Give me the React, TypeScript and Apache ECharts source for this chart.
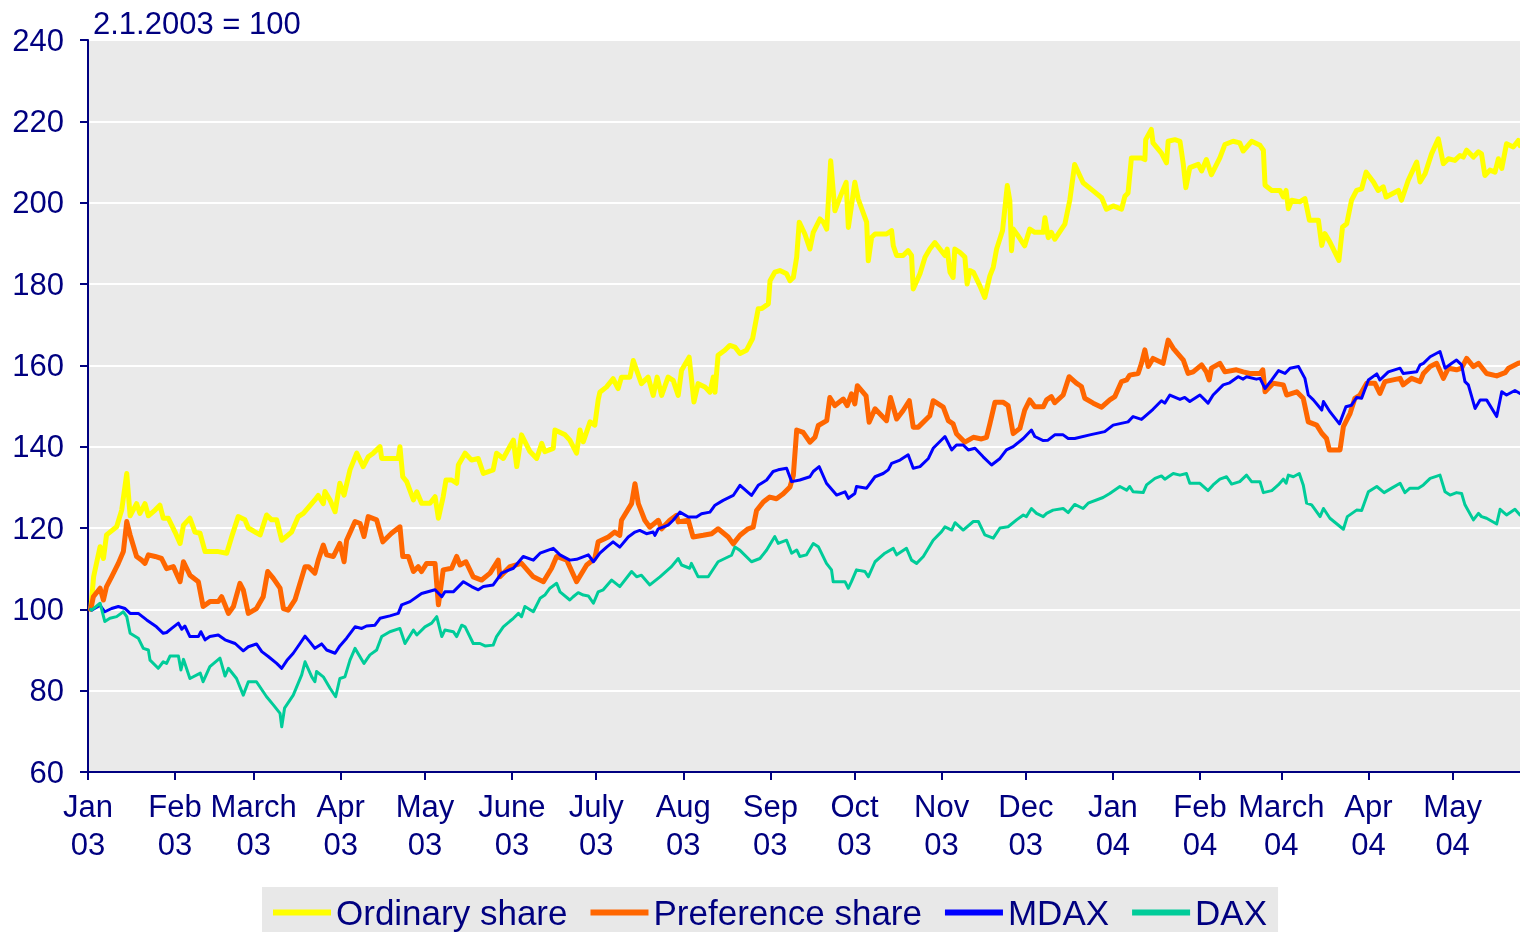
import React, { useEffect, useRef } from "react";
import * as echarts from "echarts";

// x values are days since 1 Jan 2003
const monthNames = ["Jan", "Feb", "March", "Apr", "May", "June", "July", "Aug", "Sep", "Oct", "Nov", "Dec"];
const seriesNames = ["Ordinary share", "Preference share", "MDAX", "DAX"];
const yTicks = { min: 60, max: 240, step: 20 };
const lastDay = 510;

const ordinaryShare: [number, number][] = [
  [1,100],[2,108],[4.3,115.4],[5.5,112.5],[6.6,118.3],[10.2,120.3],[12,124.4],[13.8,133.4],[15,123],[17.3,126],[18.5,123.6],[20.3,126],[21.5,123],[23.9,124.4],[25.6,125.6],[26.8,122.4],[28.6,122.4],[31,119],[32.8,116.2],[34,120.7],[36.3,122.4],[38.1,119],[39.9,118.7],[41.7,114.2],[46.4,114.2],[49.4,113.8],[51.2,117.9],[53.5,122.8],[55.9,122],[57.1,120],[61.3,118.3],[63.6,123.2],[65.4,122],[67.2,122],[69,117],[72.5,119],[74.9,122.8],[76.7,123.6],[80.8,126.9],[82,128],[83.8,126],[84.4,129],[86.2,126.9],[88,124],[89.7,131],[91.2,128.1],[93.3,134.3],[95.7,138.4],[98,135.1],[99.8,137.5],[101.6,138.4],[104,140],[104.6,137.1],[110.5,137.1],[111.1,140],[112.1,132.6],[113.5,131.4],[115.9,126.9],[117.1,128.9],[118.8,126.1],[121.8,126.1],[123.6,127.7],[124.8,122.4],[126.5,127.7],[127.5,131.8],[129.5,131.8],[131.3,131],[131.9,135.5],[134.3,138.4],[136.6,136.7],[139,137.1],[140.8,133.4],[144.3,134.3],[145.5,138.4],[147.9,137.1],[151.5,141.6],[152.7,135.1],[154.4,142.9],[157.4,138.8],[159.8,137.1],[161.6,140.8],[162.7,138.8],[165.7,139.6],[166.3,144.1],[169.9,142.9],[171.6,141.6],[174,138.4],[175.2,144.1],[176.4,141.2],[178.8,146.1],[180.5,145.3],[181.7,151.5],[182.3,153.4],[184.7,154.7],[187,156.7],[188.8,154.3],[190,157.1],[193,157.1],[194.2,161.2],[195.4,158.8],[197.1,155.5],[199.5,157.1],[201.3,152.6],[202.7,157.1],[204.3,152.6],[206.6,157.1],[208.4,156.3],[210.2,152.6],[211.4,158.8],[214.1,162],[215.8,151],[217.3,155.5],[219.7,154.7],[221.5,153.4],[222.7,157.1],[223.3,153.4],[224.4,162.5],[226.8,163.7],[228.6,164.9],[230.4,164.5],[232.2,162.9],[234.5,163.7],[236.7,166.6],[238.7,173.9],[240,174],[242.3,175.1],[242.9,180.8],[244.6,182.9],[246.4,183.3],[248.8,182.5],[250,180.8],[251.2,181.6],[252.4,186.6],[253.3,195.2],[255.3,192.3],[257.1,188.6],[258.3,192.7],[260.7,196],[261.9,195.2],[263.1,193.5],[264.5,210.3],[266,198],[267.8,201.3],[270,205],[270.8,193.9],[273.1,205],[274.3,200.9],[277.3,195.2],[277.9,185.7],[279.1,191.5],[280.3,192.3],[284.4,192.3],[286.2,193.1],[286.8,189.4],[288,187],[290.3,187],[292.1,188.2],[293.3,187],[293.9,178.8],[296.3,182.5],[298.1,186.6],[299.8,188.6],[301.6,190.2],[303.4,188.6],[305.2,187],[306,188.6],[307,182.9],[308.1,181.6],[308.7,188.6],[310.5,187.8],[312.3,186.6],[313.1,180],[314.1,183.3],[315.3,182.9],[317.6,179.6],[319.4,176.7],[321.2,182],[322.4,184.1],[323.6,188.6],[325.7,193.1],[327.4,204.2],[328.3,200.5],[328.9,188.2],[329.5,193.5],[331.3,191.8],[333.6,189.4],[335.4,193.5],[337.2,192.7],[340.2,192.7],[340.8,196.3],[342,191.4],[343.1,192.7],[344.3,191],[347.9,194.7],[349.7,200.8],[351.4,209.4],[354.4,204.9],[358,202.9],[361,201.2],[362.7,198.4],[365.1,199.2],[368.1,198.4],[369.3,201.6],[370.4,202.4],[371.6,211],[375.2,211],[376.4,210.6],[376.7,215.5],[378.7,218],[379.3,214.7],[382.3,212.2],[384.1,209.8],[384.7,215.1],[387.1,215.5],[388.9,215.1],[390.1,209.4],[391,203.7],[392.4,208.6],[395.4,209.4],[396.6,207.8],[398.3,210.6],[400.1,206.9],[403.1,211],[404.9,214.3],[407.8,215.1],[410.2,214.7],[411.4,212.7],[414.4,215.1],[417.4,214.1],[418.6,212.9],[419.2,204.3],[421.6,203],[424.5,203],[425.7,201.4],[426.7,203],[427.5,198.5],[428.7,200.6],[431.6,200.2],[433.4,201],[435,195.7],[438.2,195.7],[439.4,189.5],[440.5,192.4],[442.3,190.3],[445.5,185.8],[446.8,194],[448.3,194.8],[450,200.6],[451.8,203],[453.6,203.4],[455.2,207.5],[457.8,205.1],[459.5,203],[461.3,203.9],[462.3,201.4],[466.7,203],[467.8,200.6],[470.2,205.5],[473.2,210],[474.4,205.1],[476.2,207.1],[478.5,212],[480.9,215.7],[482.7,209.6],[484.5,210.8],[486.8,210.4],[488.6,211.6],[489.8,211.2],[491,212.9],[493.4,211.2],[495.2,212.5],[496.3,212],[497.5,206.7],[499.3,208],[501.1,207.5],[502.3,210.8],[503.5,208.4],[505.2,214.5],[507.6,213.7],[509.4,215.3],[510,214]
];

const preferenceShare: [number, number][] = [
  [1,100],[1.9,103.1],[4.3,105.2],[5.5,102.3],[6.6,105.6],[8.4,108],[10.8,111.3],[12.6,114.2],[13.8,121.6],[15,118.3],[17.3,113],[19.1,112.1],[20.3,111.3],[21.5,113.4],[23.9,113],[26.2,112.5],[28,110],[30.4,110.5],[32.8,106.8],[34,111.7],[36.3,108.4],[39.3,106.8],[41,100.7],[43.4,101.9],[46.4,101.9],[47.6,103.1],[48.8,101.1],[50,99],[51.8,100.7],[54.1,106.4],[55.3,104.8],[57.1,99],[60,100.2],[62.4,103.1],[64,109.3],[66,107.6],[68.4,105.2],[69.6,100.2],[71.3,99.8],[73.7,102.3],[77.3,110.5],[78.5,110.5],[80.8,108.9],[82,112.1],[83.8,115.8],[85,113.4],[87.4,113],[89.7,116.2],[91.2,111.7],[92.1,117],[95.1,121.6],[96.9,121.1],[98.3,117.9],[99.8,122.8],[102.8,122],[105,116.6],[108.1,118.7],[111.1,120.3],[112.1,113],[114.1,113],[115.9,109.3],[117.6,110.5],[118.8,109.3],[120.6,111.3],[123.6,111.3],[124.8,101.1],[126.5,109.7],[129.5,110.1],[131.3,113],[132.5,110.9],[134.6,111.7],[137.2,108],[140.2,107.2],[143.2,108.9],[146.1,112.1],[146.7,108],[150.3,110.5],[154.4,111.3],[158.6,108],[162.2,106.8],[165.1,110.1],[166.9,113],[170.5,112.1],[174,106.8],[177.6,110.9],[180.5,112.5],[181.7,116.6],[185.3,117.8],[187.6,119],[189.4,118.2],[190,121.9],[193.6,126],[194.8,130.9],[196,126],[198.3,121.9],[200.1,120.2],[203.1,121.9],[204.3,119.8],[207.2,121.9],[209.6,123.1],[210.2,121.5],[213.8,121.9],[215.5,117.8],[219.1,118.2],[222.1,118.6],[224.4,119.8],[228,117.8],[229.8,116.1],[232.2,118.2],[235.1,119.8],[236.9,120.2],[238.1,124.3],[240.5,126.4],[242.8,127.6],[245.2,127.2],[247.6,128.4],[250,130.1],[251.2,132.9],[252.4,144.1],[254.7,143.5],[257.1,141.1],[258.9,142.3],[260.1,145.2],[263.1,146.4],[264.2,152.1],[266,150.1],[269,151.7],[270.4,150.1],[271.9,153],[273.1,150.5],[274,155],[277.1,152.5],[278.2,146],[280.3,149.3],[284.4,146.4],[285.8,152.1],[288,146.8],[290.3,148.9],[292.5,151.3],[293.9,144.8],[295.7,144.8],[299.8,147.6],[301,151.3],[304.6,149.7],[306.4,146.4],[308.1,145.6],[309.3,143.2],[312.3,141.1],[315.3,142.3],[318.2,141.9],[320,142.3],[321.2,145.6],[323,150.9],[326,150.9],[327.7,150.1],[329.5,143.2],[331.9,144.5],[333.6,149],[335.4,151.5],[337.2,149.8],[340.2,149.8],[341.4,151.5],[343.1,152.3],[344.3,150.8],[347.3,152.7],[349.4,157.2],[352,155.6],[353.8,154.8],[355,151.9],[358,150.7],[361,149.7],[363.9,151.5],[365.7,152.3],[368.1,156],[369.9,156.4],[371,157.6],[374,158],[375.2,160.5],[376.4,163.8],[377.6,159.7],[379.3,161.7],[382.9,160.5],[384.7,166.2],[386.5,164.2],[390.1,161.3],[391.8,158],[393.6,158.4],[396.6,160.1],[398.3,158.4],[399.3,156.4],[400.1,159.3],[403.1,160.5],[404.9,158.4],[409,158.9],[411.4,158.4],[413.8,158],[417.4,158],[418.4,158.9],[419.2,153.5],[422.1,155.6],[425.7,155.2],[426.9,152.7],[430.5,153.5],[432.8,151.9],[434.6,146.1],[437.6,145.3],[439.4,143.3],[441.1,142],[442.1,139.2],[445.9,139.2],[447.1,144.9],[449.5,148.2],[451.2,151.9],[453,152.7],[455.4,155.6],[458.3,155.6],[460.1,153.1],[461.9,156],[467.3,156.8],[468.4,155.2],[471.4,156.8],[474.4,156],[475.6,158],[478,159.7],[480.3,160.5],[482.7,156.8],[484.5,159.3],[487.4,158.9],[489.2,159.3],[491,161.7],[493.4,159.7],[495.2,160.5],[498.1,158],[501.7,157.4],[504.7,158.2],[505.9,159.3],[509.4,160.5],[510,160.6]
];

const mdax: [number, number][] = [
  [1,100],[1.3,99.8],[4.3,101],[6,99.4],[8.4,100.2],[10.8,100.7],[13.2,100.2],[15,99],[17.9,99],[20.9,97.4],[24.4,95.7],[26.8,94.1],[28,94.3],[29.8,95.3],[32.2,96.6],[33.4,95.1],[34.5,95.9],[36.3,93.3],[39.3,93.3],[40.2,94.5],[41.7,92.5],[43.4,93.3],[46.4,93.7],[48.8,92.5],[52.4,91.6],[55.3,89.8],[57.1,90.8],[60,91.5],[61.9,89.6],[64.2,88.4],[67.2,86.7],[69,85.5],[70.8,87.4],[73.1,89.2],[75.5,91.6],[77.3,93.4],[79,92],[80.8,90.4],[83.2,91.5],[85,90],[88,89.2],[89.7,91],[92.1,92.9],[95.1,95.7],[97.5,95.3],[99.2,95.9],[102.2,96.1],[104,97.8],[107.5,98.4],[110.5,99],[111.7,101.1],[114.7,101.9],[118.8,103.9],[123.6,104.8],[126,103.1],[127.1,104.3],[130.1,104.3],[133.7,106.8],[136.6,105.6],[139,104.8],[140.8,105.6],[144.3,106],[147.3,108.9],[151.5,110.1],[155,113],[158.6,112.1],[161,113.8],[165.7,115],[168.1,113.4],[171.6,112.1],[174,112.3],[178.2,113.4],[180,111.7],[182.3,113.8],[184.7,115.3],[187,116.6],[189.4,115.3],[192.4,117.8],[194.8,119],[196.5,119.4],[198.9,118.6],[201.3,119],[201.9,118.2],[203.1,119.8],[206.6,120.7],[208.4,121.9],[210.8,123.9],[213.8,122.7],[216.7,122.7],[218.5,123.5],[221.5,123.9],[223.3,125.6],[226.2,126.8],[229.8,128],[232.2,130.5],[236.3,128],[238.7,130.5],[241.7,131.8],[244,133.9],[245.8,134.3],[248.8,134.7],[250.6,131.4],[253.5,131.8],[257.1,132.6],[258.3,133.9],[260.4,135.1],[263,131],[266.6,128.1],[269.6,128.9],[270.8,127.3],[273.1,128.5],[273.7,130.2],[277.3,129.8],[280.3,132.6],[283.2,133.4],[285,134.3],[286.2,135.9],[289.2,136.7],[292.1,138],[293.9,134.7],[296.3,135.1],[299.3,137.1],[301,139.6],[305.2,142.5],[307.6,139.2],[309.3,140.4],[311.7,140.4],[313.5,139.2],[315.9,139.6],[318.8,137.5],[321.8,135.5],[324.8,137.1],[327.1,139.2],[329.5,140],[333.1,142],[336,144.1],[337.2,142.5],[340.2,141.5],[341.9,141.6],[344.3,142.9],[347.3,142.9],[349.1,142],[351.4,142],[356.8,142.9],[362.1,143.7],[365.1,145.3],[370.4,146.1],[372.2,147.4],[375.2,146.7],[379.3,149.2],[382.3,151.3],[383.5,150.7],[385.3,152.7],[388.9,151.6],[390.6,152.1],[392.4,151.1],[396,152.7],[398.9,150.7],[400.7,152.7],[404.3,155.2],[406.6,155.7],[409.6,157.2],[411.4,156.6],[412.6,157.2],[416.1,156.6],[417.4,156.8],[419.2,154.3],[421.6,156.4],[424,158.7],[426.3,158],[428.1,159.3],[431.1,159.7],[433.4,156.8],[434.6,152.7],[436.4,151.5],[439.4,149],[440,151.1],[442.3,148.6],[445.7,145.6],[448,149.8],[450,150.2],[451.8,152.1],[453.6,151.9],[456,156.4],[459,157.9],[460.1,156.4],[463.1,158.4],[467.3,159.3],[468.4,158],[473.2,158.4],[474.4,160.1],[475.6,160.5],[478,162.1],[481.5,163.4],[483.3,159.3],[485.7,160.5],[487.4,161.3],[489.2,160.1],[490.4,156],[491.6,155.2],[494,149.4],[495.8,151.5],[498.1,151.5],[501.7,147.4],[503.5,153.5],[505.2,152.7],[508.2,153.8],[510,153.1]
];

const dax: [number, number][] = [
  [1,100],[1.3,99.8],[4.3,101.5],[6,97],[7.8,97.8],[10.2,98.2],[12.6,99.4],[13.8,98.2],[15,94.1],[17.9,92.9],[19.7,90.4],[21.5,90],[22.1,87.5],[25,85.5],[26.8,87.1],[28,86.7],[29.2,88.5],[32.2,88.5],[33.1,85.1],[34,87.7],[36.3,83],[40,84.3],[41,82.2],[43.4,85.9],[47,88],[48.8,83.6],[50,85.5],[52.9,83],[55.3,78.9],[57.1,82.2],[60,82.2],[63.6,78.5],[66,76.5],[68.4,74.4],[69,71.1],[70,75.7],[73.1,78.9],[76.1,83.9],[77.3,87.1],[79.7,83.4],[80.8,82.2],[81.4,84.7],[83.8,83.4],[86.2,80.6],[88.2,78.5],[89.7,83],[91.5,83.4],[93.3,87.5],[95.1,90.4],[98.3,86.7],[100.4,88.8],[102.8,90],[104.6,93.3],[107.5,94.5],[111.1,95.3],[112.9,91.6],[115.9,94.9],[117.1,93.7],[120,95.7],[122.4,96.6],[124.2,98.2],[126,93.3],[127.1,94.9],[130.1,94.5],[131.3,93.3],[133.1,96.1],[134.3,95.7],[137.2,91.6],[139.6,91.6],[141.4,91],[144.3,91.2],[145.5,93.3],[147.9,95.7],[151.5,97.8],[153.3,99],[154.4,98.2],[155.6,100.7],[158.6,99.4],[161,102.7],[162.7,103.5],[164.5,105.2],[166.9,106.4],[168.1,104.3],[171.6,102.3],[172.8,103.1],[174.6,104.1],[176.4,103.5],[178.2,103.3],[180,101.5],[181.7,104.3],[183.5,104.8],[186.5,107.2],[189.4,105.6],[193.6,109.3],[195.4,108],[197.1,108.4],[200.1,106],[203.7,108],[207.8,110.5],[210.2,112.5],[211.4,110.9],[214.3,110.1],[214.9,111.3],[217.3,108],[220.9,108],[224.4,111.7],[226.8,112.5],[229.2,113.3],[230.4,115.3],[232.2,114.5],[236.3,111.7],[239.3,112.5],[241.7,114.6],[244.6,117.9],[245.8,116.2],[248.8,117],[250.6,113.8],[252.4,114.6],[253.5,113],[255.9,113.4],[258.3,116.2],[260.1,115.4],[263,111.3],[264.8,109.7],[265.4,106.8],[269.6,106.8],[270.8,105.2],[271.9,106.8],[273.7,109.7],[276.7,109.3],[277.9,108],[280.3,111.7],[283.8,113.8],[286.8,115],[288,113.4],[291.5,115],[293.3,112.1],[295.1,111.3],[297.5,113],[301,117],[304,119.1],[305.2,120.3],[307.6,119.5],[308.8,121.3],[311.7,119.5],[315.3,121.6],[317.1,121.6],[319.4,118.3],[322.4,117.5],[324.8,120],[327.7,120.3],[330.7,122],[333.1,123.2],[334.2,122.8],[336,124.8],[337.8,123.6],[340.2,122.8],[341.4,123.6],[343.7,124.4],[347.3,124.8],[349.1,123.8],[351.4,125.8],[354.4,124.8],[356.2,126.1],[361.5,127.5],[363.9,128.5],[367.5,130.2],[369.9,129.3],[371,130.2],[372.2,128.9],[375.8,128.7],[377,130.6],[380,132.2],[382.3,132.8],[383.5,132],[386.5,133.4],[388.9,133],[391.2,133.4],[392.4,131],[396,131],[398.9,129.2],[400.7,130.6],[403.1,132],[405.5,132.6],[407.3,130.8],[410.2,131.4],[412.6,133],[414.4,131.4],[417.4,131.4],[418.6,128.7],[421.6,129.2],[423.9,130.6],[425.7,132],[426.7,131],[427.5,133],[429.3,132.6],[431.4,133.4],[432.8,130.6],[434,126.1],[435.8,125.7],[438.8,122.8],[440,124.8],[442.3,122.4],[447.1,119.7],[448.5,122.8],[451.8,124.4],[453.6,124.3],[456,128.9],[459,130.2],[461.6,128.7],[464.3,129.8],[467.3,131],[469,128.7],[470.8,129.8],[473.8,129.8],[475.6,130.6],[478,132.2],[481.5,133],[483.3,128.9],[485.1,128.1],[487.4,128.7],[489.2,128.5],[490.4,125.7],[493.4,122],[495.2,123.6],[496.3,122.8],[498.1,122.4],[501.7,121],[502.9,124.6],[505.2,123.2],[508.2,124.6],[510,123.2]
];

const NAVY = "#000080";
const FONT = "'Liberation Sans', Arial, sans-serif";
const BASE = Date.UTC(2003, 0, 1);
const DAY = 86400000;

function toTime(arr: [number, number][]) {
  return arr.map(([d, v]) => [BASE + d * DAY, v]);
}

export default function App() {
  const ref = useRef<HTMLDivElement>(null);
  useEffect(() => {
    if (!ref.current) return;
    const chart = echarts.init(ref.current, undefined, { renderer: "svg" });
    const colors = ["#FFFF00", "#FF6600", "#0000FF", "#00CC99"];
    const widths = [5, 5, 3, 3];
    const datasets = [ordinaryShare, preferenceShare, mdax, dax];
    chart.setOption({
      animation: false,
      useUTC: true,
      title: {
        text: "2.1.2003 = 100",
        left: 88,
        top: 3,
        textStyle: { fontSize: 31, fontWeight: "normal", color: NAVY, fontFamily: FONT },
      },
      grid: {
        left: 88,
        right: 0,
        top: 40,
        bottom: 160,
        show: true,
        backgroundColor: "#EAEAEA",
        borderWidth: 0,
      },
      legend: {
        data: seriesNames,
        left: 262,
        top: 887,
        backgroundColor: "#E8E8E8",
        padding: [8, 11, 8, 11],
        itemGap: 23,
        itemWidth: 58,
        itemHeight: 6,
        icon: "rect",
        textStyle: { fontSize: 35, color: NAVY, fontFamily: FONT },
      },
      xAxis: {
        type: "time",
        min: BASE,
        max: BASE + lastDay * DAY,
        splitNumber: 17,
        minInterval: 28 * DAY,
        maxInterval: 31 * DAY,
        axisLine: { show: true, lineStyle: { color: NAVY, width: 2 } },
        axisTick: { show: true, length: 8, lineStyle: { color: NAVY, width: 2 } },
        splitLine: { show: false },
        axisLabel: {
          show: true,
          margin: 15,
          fontSize: 31,
          lineHeight: 38,
          color: NAVY,
          fontFamily: FONT,
          hideOverlap: false,
          formatter: (value: number) => {
            const d = new Date(value);
            if (d.getUTCDate() !== 1) return "";
            return monthNames[d.getUTCMonth()] + "\n" + String(d.getUTCFullYear()).slice(2);
          },
        },
      },
      yAxis: {
        type: "value",
        min: yTicks.min,
        max: yTicks.max,
        interval: yTicks.step,
        axisLine: { show: true, lineStyle: { color: NAVY, width: 2 } },
        axisTick: { show: true, length: 8, lineStyle: { color: NAVY, width: 2 } },
        splitLine: { show: true, lineStyle: { color: "#FFFFFF", width: 2 } },
        axisLabel: { margin: 24, fontSize: 31, color: NAVY, fontFamily: FONT },
      },
      series: datasets.map((arr, i) => ({
        name: seriesNames[i],
        type: "line",
        data: toTime(arr),
        showSymbol: false,
        symbol: "none",
        color: colors[i],
        lineStyle: { color: colors[i], width: widths[i], join: "round", cap: "round" },
        z: 2 + i,
      })),
    });
    return () => chart.dispose();
  }, []);
  return (
    <div
      ref={ref}
      style={{ position: "fixed", left: 0, top: 0, width: 1520, height: 932 }}
    />
  );
}
